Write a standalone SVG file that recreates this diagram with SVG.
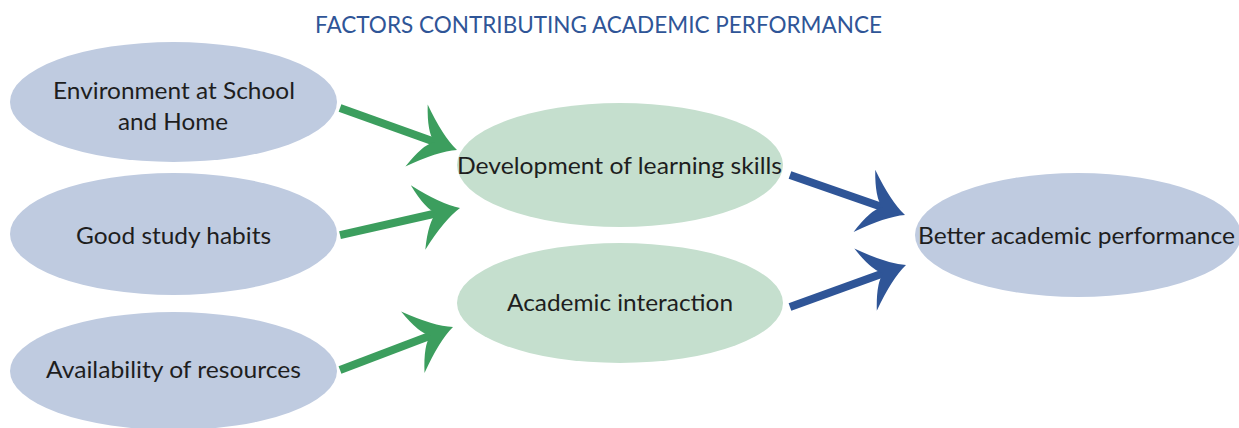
<svg xmlns="http://www.w3.org/2000/svg" xmlns:xlink="http://www.w3.org/1999/xlink" width="1239" height="428" viewBox="0 0 1239 428">
<style>
  .txt { font-family: Lato, "Open Sans", "Liberation Sans", sans-serif; font-size: 22.5px; fill: #1E1E1E; }
  .title { font-family: Lato, "Open Sans", "Liberation Sans", sans-serif; font-size: 23.5px; fill: #2F5597; }
  .blue-node { fill: #BFCBE0; }
  .green-node { fill: #C5DFCE; }
  .g-shaft { stroke: #3C9E5E; stroke-width: 8; fill: none; }
  .g-head { fill: #3C9E5E; }
  .b-shaft { stroke: #2F5597; stroke-width: 8; fill: none; }
  .b-head { fill: #2F5597; }
</style>
<defs>
  <path id="head" d="M 0,0 Q -18,-8 -43,-33 Q -34,-6 -24,0 Q -34,6 -43,33 Q -18,8 0,0 Z"/>
</defs>
<rect width="1239" height="428" fill="#FFFFFF"/>
<text class="title" x="315" y="33" textLength="567" lengthAdjust="spacingAndGlyphs">FACTORS CONTRIBUTING ACADEMIC PERFORMANCE</text>

<g id="node-environment">
  <ellipse class="blue-node" cx="173.5" cy="102" rx="163.5" ry="60"/>
  <text class="txt" x="53" y="99" textLength="242" lengthAdjust="spacingAndGlyphs">Environment at School</text>
  <text class="txt" x="118" y="130" textLength="110" lengthAdjust="spacingAndGlyphs">and Home</text>
</g>
<g id="node-habits">
  <ellipse class="blue-node" cx="173.5" cy="234" rx="163.5" ry="61"/>
  <text class="txt" x="76" y="244" textLength="195" lengthAdjust="spacingAndGlyphs">Good study habits</text>
</g>
<g id="node-resources">
  <ellipse class="blue-node" cx="173.5" cy="371" rx="163.5" ry="59"/>
  <text class="txt" x="46" y="378" textLength="255" lengthAdjust="spacingAndGlyphs">Availability of resources</text>
</g>
<g id="node-learning">
  <ellipse class="green-node" cx="620" cy="165" rx="163" ry="62"/>
  <text class="txt" x="457" y="174" textLength="325" lengthAdjust="spacingAndGlyphs">Development of learning skills</text>
</g>
<g id="node-interaction">
  <ellipse class="green-node" cx="620" cy="303" rx="163" ry="60"/>
  <text class="txt" x="507" y="311" textLength="226" lengthAdjust="spacingAndGlyphs">Academic interaction</text>
</g>
<g id="node-performance">
  <ellipse class="blue-node" cx="1078" cy="235" rx="163" ry="62"/>
  <text class="txt" x="918" y="244" textLength="317" lengthAdjust="spacingAndGlyphs">Better academic performance</text>
</g>

<g id="connectors">
  <g transform="translate(457,150) rotate(19.75)">
    <line class="g-shaft" x1="-124.3" y1="0" x2="-16" y2="0"/>
    <use xlink:href="#head" class="g-head"/>
  </g>
  <g transform="translate(460,208) rotate(-12.7)">
    <line class="g-shaft" x1="-123" y1="0" x2="-16" y2="0"/>
    <use xlink:href="#head" class="g-head"/>
  </g>
  <g transform="translate(453,327) rotate(-20.8)">
    <line class="g-shaft" x1="-120.9" y1="0" x2="-16" y2="0"/>
    <use xlink:href="#head" class="g-head"/>
  </g>
  <g transform="translate(905,215) rotate(19.2)">
    <line class="b-shaft" x1="-121.8" y1="0" x2="-16" y2="0"/>
    <use xlink:href="#head" class="b-head"/>
  </g>
  <g transform="translate(906,265) rotate(-19.9)">
    <line class="b-shaft" x1="-123.4" y1="0" x2="-16" y2="0"/>
    <use xlink:href="#head" class="b-head"/>
  </g>
</g>
</svg>
